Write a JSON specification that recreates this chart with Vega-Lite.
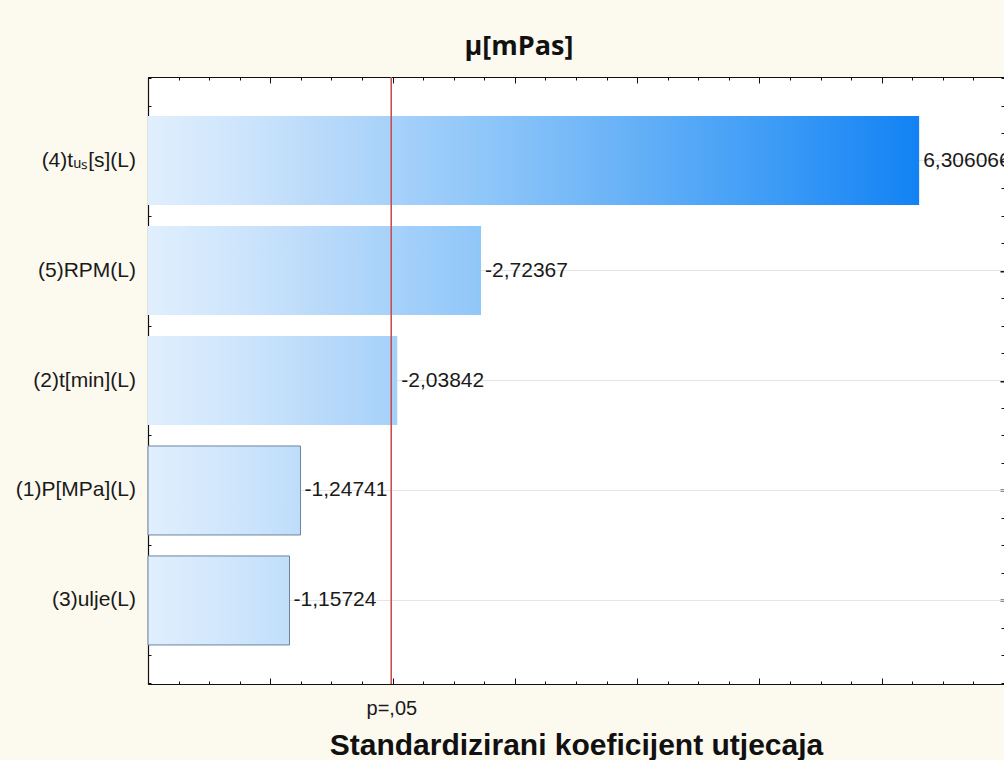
{
  "$schema": "https://vega.github.io/schema/vega-lite/v6.json",
  "width": 856,
  "height": 607,
  "autosize": {"type": "none"},
  "padding": {"left": 148, "top": 77, "right": 0, "bottom": 76},
  "background": "#fcf9ef",
  "config": {"view": {"fill": "#ffffff", "stroke": null}},
  "title": {
    "text": "μ[mPas]",
    "font": "Open Sans",
    "fontSize": 27,
    "fontWeight": "bold",
    "color": "#111111",
    "anchor": "middle",
    "baseline": "alphabetic",
    "offset": 0,
    "dx": -57,
    "dy": 5
  },
  "data": {
    "values": [
      {"factor": "(4)tᵤₛ[s](L)", "rank": 1, "magnitude": 6.306066, "label": "6,306066"},
      {"factor": "(5)RPM(L)", "rank": 2, "magnitude": 2.72367, "label": "-2,72367"},
      {"factor": "(2)t[min](L)", "rank": 3, "magnitude": 2.03842, "label": "-2,03842"},
      {"factor": "(1)P[MPa](L)", "rank": 4, "magnitude": 1.24741, "label": "-1,24741"},
      {"factor": "(3)ulje(L)", "rank": 5, "magnitude": 1.15724, "label": "-1,15724"}
    ]
  },
  "resolve": {"axis": {"x": "independent", "y": "independent"}},
  "layer": [
    {
      "mark": {"type": "rule", "color": "#e4e4e4", "strokeWidth": 1},
      "encoding": {
        "y": {"field": "rank", "type": "quantitative", "axis": null,
              "scale": {"domain": [0.2405, 5.7595], "reverse": true, "nice": false, "zero": false, "padding": 0}}
      }
    },
    {
      "mark": {"type": "bar", "orient": "horizontal", "height": 89, "strokeWidth": 1},
      "encoding": {
        "x": {
          "field": "magnitude", "type": "quantitative",
          "scale": {"domain": [0, 7], "nice": false, "zero": true, "padding": 0},
          "axis": {
            "orient": "bottom",
            "values": [0,0.25,0.5,0.75,1,1.25,1.5,1.75,2,2.25,2.5,2.75,3,3.25,3.5,3.75,4,4.25,4.5,4.75,5,5.25,5.5,5.75,6,6.25,6.5,6.75,7],
            "labels": false,
            "domainColor": "#111111",
            "domainWidth": 1.2,
            "tickColor": "#111111",
            "tickSize": {"condition": {"test": "datum.value % 1 === 0", "value": -6}, "value": -3},
            "grid": false,
            "title": "Standardizirani koeficijent utjecaja",
            "titleFont": "Liberation Sans",
            "titleFontSize": 30,
            "titleFontWeight": "bold",
            "titleColor": "#111111",
            "titleBaseline": "alphabetic",
            "titleY": 70
          }
        },
        "y": {
          "field": "rank", "type": "quantitative",
          "axis": {
            "orient": "left",
            "values": [0.25,0.5,0.75,1,1.25,1.5,1.75,2,2.25,2.5,2.75,3,3.25,3.5,3.75,4,4.25,4.5,4.75,5,5.25,5.5,5.75],
            "labels": false,
            "title": null,
            "grid": false,
            "domainColor": "#111111",
            "domainWidth": 1.2,
            "tickColor": "#111111",
            "tickSize": {"condition": {"test": "datum.value % 1 === 0", "value": -4}, "value": -3},
            "tickWidth": {"condition": {"test": "datum.value % 1 === 0", "value": 2}, "value": 1}
          }
        },
        "fill": {
          "condition": [
            {"test": "datum.rank === 1", "value": {"gradient": "linear", "x1": 0, "y1": 0, "x2": 1, "y2": 0,
              "stops": [{"offset": 0, "color": "#e0effd"}, {"offset": 0.12, "color": "#cde5fc"}, {"offset": 0.2, "color": "#bedcfa"}, {"offset": 0.31, "color": "#a8d2fa"}, {"offset": 0.43, "color": "#90c7f9"}, {"offset": 0.6, "color": "#6cb4f7"}, {"offset": 0.8, "color": "#3f9df6"}, {"offset": 1, "color": "#1282f4"}]}},
            {"test": "datum.rank === 2", "value": {"gradient": "linear", "x1": 0, "y1": 0, "x2": 2.3153, "y2": 0,
              "stops": [{"offset": 0, "color": "#e0effd"}, {"offset": 0.12, "color": "#cde5fc"}, {"offset": 0.2, "color": "#bedcfa"}, {"offset": 0.31, "color": "#a8d2fa"}, {"offset": 0.43, "color": "#90c7f9"}, {"offset": 0.6, "color": "#6cb4f7"}, {"offset": 0.8, "color": "#3f9df6"}, {"offset": 1, "color": "#1282f4"}]}},
            {"test": "datum.rank === 3", "value": {"gradient": "linear", "x1": 0, "y1": 0, "x2": 3.0936, "y2": 0,
              "stops": [{"offset": 0, "color": "#e0effd"}, {"offset": 0.12, "color": "#cde5fc"}, {"offset": 0.2, "color": "#bedcfa"}, {"offset": 0.31, "color": "#a8d2fa"}, {"offset": 0.43, "color": "#90c7f9"}, {"offset": 0.6, "color": "#6cb4f7"}, {"offset": 0.8, "color": "#3f9df6"}, {"offset": 1, "color": "#1282f4"}]}},
            {"test": "datum.rank === 4", "value": {"gradient": "linear", "x1": 0, "y1": 0, "x2": 5.0554, "y2": 0,
              "stops": [{"offset": 0, "color": "#e0effd"}, {"offset": 0.12, "color": "#cde5fc"}, {"offset": 0.2, "color": "#bedcfa"}, {"offset": 0.31, "color": "#a8d2fa"}, {"offset": 0.43, "color": "#90c7f9"}, {"offset": 0.6, "color": "#6cb4f7"}, {"offset": 0.8, "color": "#3f9df6"}, {"offset": 1, "color": "#1282f4"}]}}
          ],
          "value": {"gradient": "linear", "x1": 0, "y1": 0, "x2": 5.4491, "y2": 0,
            "stops": [{"offset": 0, "color": "#e0effd"}, {"offset": 0.12, "color": "#cde5fc"}, {"offset": 0.2, "color": "#bedcfa"}, {"offset": 0.31, "color": "#a8d2fa"}, {"offset": 0.43, "color": "#90c7f9"}, {"offset": 0.6, "color": "#6cb4f7"}, {"offset": 0.8, "color": "#3f9df6"}, {"offset": 1, "color": "#1282f4"}]}
        },
        "stroke": {
          "condition": {"test": "datum.magnitude < 1.99", "value": "#6a84a0"},
          "value": null
        }
      }
    },
    {
      "mark": {"type": "text", "align": "left", "baseline": "middle", "dx": 4, "font": "Liberation Sans", "fontSize": 21, "color": "#1a1a1a"},
      "encoding": {
        "x": {"field": "magnitude", "type": "quantitative", "axis": null},
        "y": {"field": "rank", "type": "quantitative", "axis": null},
        "text": {"field": "label"}
      }
    },
    {
      "mark": {"type": "text", "align": "right", "baseline": "middle", "dx": -12, "font": "Liberation Sans", "fontSize": 21, "color": "#1a1a1a"},
      "encoding": {
        "x": {"datum": 0, "type": "quantitative", "axis": null},
        "y": {"field": "rank", "type": "quantitative", "axis": null},
        "text": {"field": "factor"}
      }
    },
    {
      "mark": {"type": "rule", "stroke": "#c8504f", "color": "#c8504f", "strokeWidth": 1},
      "encoding": {
        "x": {
          "datum": 1.99, "type": "quantitative",
          "axis": {
            "orient": "bottom",
            "values": [1.99],
            "labelExpr": "'p=,05'",
            "ticks": false,
            "domain": false,
            "grid": false,
            "title": null,
            "labelFont": "Liberation Sans",
            "labelFontSize": 20,
            "labelColor": "#1a1a1a",
            "labelBaseline": "alphabetic",
            "labelPadding": 30
          }
        }
      }
    },
    {
      "mark": {"type": "point", "opacity": 0},
      "encoding": {
        "x": {
          "field": "magnitude", "type": "quantitative",
          "axis": {
            "orient": "top",
            "values": [0,0.25,0.5,0.75,1,1.25,1.5,1.75,2,2.25,2.5,2.75,3,3.25,3.5,3.75,4,4.25,4.5,4.75,5,5.25,5.5,5.75,6,6.25,6.5,6.75,7],
            "labels": false,
            "title": null,
            "grid": false,
            "domainColor": "#111111",
            "domainWidth": 1.2,
            "tickColor": "#111111",
            "tickSize": {"condition": {"test": "datum.value % 1 === 0", "value": -6}, "value": -3}
          }
        },
        "y": {
          "field": "rank", "type": "quantitative",
          "axis": {
            "orient": "right",
            "values": [0.25,0.5,0.75,1,1.25,1.5,1.75,2,2.25,2.5,2.75,3,3.25,3.5,3.75,4,4.25,4.5,4.75,5,5.25,5.5,5.75],
            "labels": false,
            "title": null,
            "grid": false,
            "domainColor": "#111111",
            "tickColor": "#111111",
            "tickSize": {"condition": {"test": "datum.value % 1 === 0", "value": -4}, "value": -3},
            "tickWidth": {"condition": {"test": "datum.value % 1 === 0", "value": 2}, "value": 1}
          }
        }
      }
    }
  ]
}
